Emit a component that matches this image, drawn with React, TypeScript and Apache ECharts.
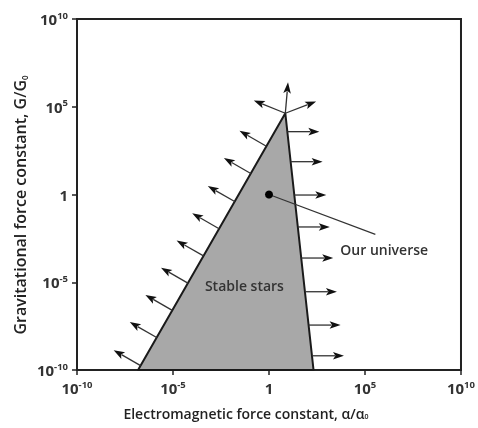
import React, { useEffect, useRef } from "react";
import * as echarts from "echarts";

// All values are log10 exponents of α/α0 (x) and G/G0 (y)
const axisMin = -10;
const axisMax = 10;
const tickStep = 5;
const stableRegion = [
  [-6.82, -10],
  [0.85, 4.63],
  [2.32, -10],
];
const ourUniverse = [[0, 0]];
const leaderLine = [
  [0, 0],
  [5.54, -2.27],
];
const leftEdgeArrowY = [-9.75, -8.15, -6.6, -5.05, -3.5, -1.95, -0.4, 1.2, 2.75];
const rightEdgeArrowY = [3.58, 1.87, -0.03, -1.85, -3.62, -5.54, -7.44, -9.19];
const apexArrowAngles = [158, 85, 21];
const apexArrowLengths = [34, 31, 33];
const annotationNames = ["Stable stars", "Our universe"];
const annotationX = [-1.28, 6.0];
const annotationY = [-5.16, -3.16];
const xAxisTitle = "Electromagnetic force constant, α/α{sub|0}";
const yAxisTitle = "Gravitational force constant, G/G{sub|0}";

const FONT = "Open Sans";
const INK = "#222";

function edgeX(y: number, a: number[], b: number[]) {
  return a[0] + ((y - a[1]) * (b[0] - a[0])) / (b[1] - a[1]);
}

function arrow(x0: number, y0: number, dx: number, dy: number, len: number) {
  const tipX = x0 + dx * len;
  const tipY = y0 + dy * len;
  const headLen = 11;
  const headW = 3.8;
  const bx = tipX - dx * headLen;
  const by = tipY - dy * headLen;
  const px = -dy;
  const py = dx;
  return {
    type: "group",
    children: [
      {
        type: "line",
        shape: { x1: x0, y1: y0, x2: bx + dx * 2, y2: by + dy * 2 },
        style: { stroke: "#333", lineWidth: 1.3 },
      },
      {
        type: "polygon",
        shape: {
          points: [
            [tipX, tipY],
            [bx + px * headW, by + py * headW],
            [bx + dx * 2.5, by + dy * 2.5],
            [bx - px * headW, by - py * headW],
          ],
        },
        style: { fill: "#111" },
      },
    ],
  };
}

const supLabel = (v: number) => (v === 0 ? "{b|1}" : `{b|10}{s|${v}}`);

export default function App() {
  const ref = useRef<HTMLDivElement>(null);
  useEffect(() => {
    if (!ref.current) return;
    const chart = echarts.init(ref.current, null, { renderer: "svg" });
    const [pL, pA, pR] = stableRegion;
    const leftData = leftEdgeArrowY.map((y) => [edgeX(y, pL, pA), y]);
    const rightData = rightEdgeArrowY.map((y) => [edgeX(y, pA, pR), y]);
    const apexData = apexArrowAngles.map((a, i) => [pA[0], pA[1], a, apexArrowLengths[i]]);
    const labelData = annotationNames.map((n, i) => ({ name: n, value: [annotationX[i], annotationY[i]] }));

    const titleStyle = (size: number) => ({
      fontFamily: FONT,
      fontSize: size,
      fontWeight: 600,
      fill: INK,
      align: "center",
      verticalAlign: "middle",
      rich: {
        sub: { fontFamily: FONT, fontSize: size / 2, fontWeight: 600, fill: INK, verticalAlign: "bottom", padding: [6, 0, 0, 0] },
      },
    });

    const axisCommon = {
      type: "value",
      min: axisMin,
      max: axisMax,
      interval: tickStep,
      splitLine: { show: false },
      axisLine: { show: true, onZero: false, lineStyle: { color: INK, width: 2 } },
      axisTick: { show: true, inside: false, length: 5, lineStyle: { color: INK, width: 1.5 } },
      axisLabel: {
        margin: 9,
        color: "#333",
        formatter: supLabel,
        rich: {
          b: { fontFamily: FONT, fontSize: 15, fontWeight: 700, color: "#333", lineHeight: 18 },
          s: { fontFamily: FONT, fontSize: 9.5, fontWeight: 700, color: "#333", verticalAlign: "top", lineHeight: 18 },
        },
      },
    };

    chart.setOption({
      animation: false,
      grid: { left: 77, top: 19, width: 390, height: 351, show: true, borderColor: INK, borderWidth: 2, backgroundColor: "transparent" },
      xAxis: { ...axisCommon },
      yAxis: { ...axisCommon },
      graphic: [
        { type: "text", x: 246, y: 413, style: { ...titleStyle(14), text: xAxisTitle } },
        { type: "text", x: 20, y: 205, rotation: Math.PI / 2, style: { ...titleStyle(16), text: yAxisTitle } },
      ],
      series: [
        {
          type: "custom",
          name: "Stable stars",
          data: stableRegion,
          encode: { x: 0, y: 1 },
          z: 1,
          renderItem: (params: any, api: any) => {
            if (params.dataIndex !== 0) return null;
            const pts = stableRegion.map((p) => api.coord(p));
            return {
              type: "polygon",
              shape: { points: pts },
              style: { fill: "#a8a8a8", stroke: "#1a1a1a", lineWidth: 2, lineJoin: "round" },
            };
          },
        },
        {
          type: "custom",
          name: "left arrows",
          data: leftData,
          encode: { x: 0, y: 1 },
          z: 2,
          renderItem: (params: any, api: any) => {
            const a = api.coord(pL);
            const b = api.coord(pA);
            const ex = b[0] - a[0];
            const ey = b[1] - a[1];
            const l = Math.hypot(ex, ey);
            const dx = ey / l;
            const dy = -ex / l;
            const s = dx < 0 ? 1 : -1;
            const c = api.coord([api.value(0), api.value(1)]);
            return arrow(c[0], c[1], dx * s, dy * s, 31);
          },
        },
        {
          type: "custom",
          name: "right arrows",
          data: rightData,
          encode: { x: 0, y: 1 },
          z: 2,
          renderItem: (params: any, api: any) => {
            const c = api.coord([api.value(0), api.value(1)]);
            return arrow(c[0], c[1], 1, 0, 32);
          },
        },
        {
          type: "custom",
          name: "apex arrows",
          data: apexData,
          encode: { x: 0, y: 1 },
          z: 2,
          renderItem: (params: any, api: any) => {
            const c = api.coord([api.value(0), api.value(1)]);
            const ang = (api.value(2) * Math.PI) / 180;
            return arrow(c[0], c[1], Math.cos(ang), -Math.sin(ang), api.value(3));
          },
        },
        {
          type: "line",
          data: leaderLine,
          symbol: "none",
          z: 3,
          lineStyle: { color: "#333", width: 1.2 },
        },
        {
          type: "scatter",
          data: ourUniverse,
          symbolSize: 8,
          z: 4,
          itemStyle: { color: "#000", opacity: 1 },
        },
        {
          type: "custom",
          name: "labels",
          data: labelData,
          encode: { x: 0, y: 1 },
          z: 5,
          renderItem: (params: any, api: any) => {
            const c = api.coord([api.value(0), api.value(1)]);
            return {
              type: "text",
              x: c[0],
              y: c[1],
              style: {
                text: annotationNames[params.dataIndex],
                fill: "#333",
                fontFamily: FONT,
                fontSize: 14,
                fontWeight: 600,
                align: "center",
                verticalAlign: "middle",
              },
            };
          },
        },
      ],
    });
    return () => chart.dispose();
  }, []);
  return <div ref={ref} style={{ position: "fixed", left: 0, top: 0, width: 478, height: 428 }} />;
}
